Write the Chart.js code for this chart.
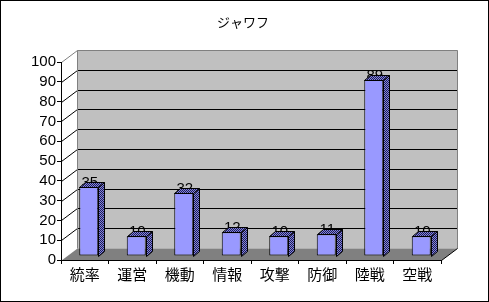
<!DOCTYPE html>
<html>
<head>
<meta charset="utf-8">
<script src="https://cdn.jsdelivr.net/npm/chart.js@4"></script>
<style>
  html, body { margin: 0; padding: 0; background: #fff; }
  canvas { display: block; }
</style>
</head>
<body>
<canvas id="chart" width="489" height="302"></canvas>
<script>
const title = "ジャワフ";
const categories = ["統率", "運営", "機動", "情報", "攻撃", "防御", "陸戦", "空戦"];
const values = [35, 10, 32, 12, 10, 11, 89, 10];
const yMin = 0;
const yMax = 100;
const yStep = 10;

// 3d depth of the walls and of the bars
const wallDx = 16, wallDy = 12;
const barShift = 4;
const barDx = 6, barDy = 5;

function makePattern(ctx) {
    const c = document.createElement("canvas");
    c.width = 2; c.height = 2;
    const p = c.getContext("2d");
    p.fillStyle = "#8080E0";
    p.fillRect(0, 0, 2, 2);
    p.fillStyle = "#202050";
    p.fillRect(0, 0, 1, 1);
    p.fillRect(1, 1, 1, 1);
    return ctx.createPattern(c, "repeat");
}

const walls = {
    id: "walls",
    beforeDraw(chart) {
        const ctx = chart.ctx;
        const a = chart.chartArea;
        const y = chart.scales.y;
        const L = a.left + 0.5, R = a.right + 0.5, T = a.top, B = a.bottom + 0.5;
        ctx.save();
        // title
        ctx.fillStyle = "#000";
        ctx.font = "13px 'Noto Sans CJK JP', sans-serif";
        ctx.textAlign = "center";
        ctx.textBaseline = "middle";
        ctx.fillText(title, 243, 22);
        // back wall
        ctx.fillStyle = "#C0C0C0";
        ctx.fillRect(L + wallDx, T - wallDy, R - L, B - T);
        // floor
        ctx.fillStyle = "#808080";
        ctx.beginPath();
        ctx.moveTo(L, B);
        ctx.lineTo(L + wallDx, B - wallDy);
        ctx.lineTo(R + wallDx, B - wallDy);
        ctx.lineTo(R, B);
        ctx.closePath();
        ctx.fill();
        // grid lines
        ctx.lineWidth = 1;
        ctx.strokeStyle = "#000";
        for (let v = yMin + yStep; v < yMax; v += yStep) {
            const py = Math.round(y.getPixelForValue(v)) + 0.5;
            ctx.beginPath();
            ctx.moveTo(L, py);
            ctx.lineTo(L + wallDx, py - wallDy);
            ctx.lineTo(R + wallDx, py - wallDy);
            ctx.stroke();
        }
        // wall outline
        ctx.strokeStyle = "#808080";
        const topY = Math.round(y.getPixelForValue(yMax)) + 0.5;
        ctx.beginPath();
        ctx.moveTo(L, topY);
        ctx.lineTo(L + wallDx, topY - wallDy);
        ctx.lineTo(R + wallDx, topY - wallDy);
        ctx.lineTo(R + wallDx, B - wallDy);
        ctx.moveTo(L + wallDx, topY - wallDy);
        ctx.lineTo(L + wallDx, B - wallDy);
        ctx.stroke();
        ctx.strokeStyle = "#000";
        ctx.beginPath();
        ctx.moveTo(R, B);
        ctx.lineTo(R + wallDx, B - wallDy);
        ctx.stroke();
        ctx.restore();
    },
    beforeDatasetsDraw(chart) {
        const ctx = chart.ctx;
        ctx.save();
        ctx.translate(barShift, -barShift);
        // value labels sit behind the bar tops
        ctx.fillStyle = "#000";
        ctx.font = "15px 'Liberation Sans', Arial, sans-serif";
        ctx.textAlign = "center";
        ctx.textBaseline = "alphabetic";
        chart.getDatasetMeta(0).data.forEach((bar, i) => {
            ctx.fillText(String(values[i]), bar.x + 1, bar.y);
        });
    },
    afterDatasetsDraw(chart) {
        const ctx = chart.ctx;
        const pat = makePattern(ctx);
        ctx.lineWidth = 1;
        ctx.strokeStyle = "#000";
        chart.getDatasetMeta(0).data.forEach(bar => {
            const l = Math.round(bar.x - bar.width / 2) + 0.5;
            const r = Math.round(bar.x + bar.width / 2) + 0.5;
            const t = Math.round(bar.y) + 0.5;
            const b = Math.round(bar.base) + 0.5;
            ctx.fillStyle = pat;
            // side
            ctx.beginPath();
            ctx.moveTo(r, t);
            ctx.lineTo(r + barDx, t - barDy);
            ctx.lineTo(r + barDx, b - barDy);
            ctx.lineTo(r, b);
            ctx.closePath();
            ctx.fill();
            ctx.stroke();
            // top
            ctx.beginPath();
            ctx.moveTo(l, t);
            ctx.lineTo(l + barDx, t - barDy);
            ctx.lineTo(r + barDx, t - barDy);
            ctx.lineTo(r, t);
            ctx.closePath();
            ctx.fill();
            ctx.stroke();
        });
        ctx.restore();
    },
    afterDraw(chart) {
        const ctx = chart.ctx;
        ctx.save();
        ctx.strokeStyle = "#000";
        ctx.lineWidth = 1;
        ctx.strokeRect(0.5, 0.5, chart.width - 1, chart.height - 1);
        ctx.restore();
    }
};

new Chart(document.getElementById("chart"), {
    type: "bar",
    data: {
        labels: categories,
        datasets: [{
            data: values,
            backgroundColor: "#9999FF",
            borderColor: "#000",
            borderWidth: 1,
            borderSkipped: false,
            barPercentage: 0.4,
            categoryPercentage: 1
        }]
    },
    options: {
        responsive: false,
        animation: false,
        devicePixelRatio: 1,
        layout: { padding: { left: 0, right: 48, top: 62, bottom: 0 } },
        plugins: {
            legend: { display: false },
            tooltip: { enabled: false },
            title: { display: false }
        },
        scales: {
            x: {
                afterFit: s => { s.height = 42; },
                grid: { drawOnChartArea: false, drawTicks: true, tickLength: 4, color: "#000", offset: true },
                border: { color: "#000" },
                ticks: {
                    color: "#000",
                    padding: 1,
                    autoSkip: false,
                    maxRotation: 0,
                    font: { family: "'Noto Sans CJK JP', sans-serif", size: 15 }
                }
            },
            y: {
                min: yMin,
                max: yMax,
                afterFit: s => { s.width = 61; },
                grid: { drawOnChartArea: false, drawTicks: true, tickLength: 4, color: "#000" },
                border: { color: "#000" },
                ticks: {
                    stepSize: yStep,
                    autoSkip: false,
                    color: "#000",
                    padding: 1,
                    font: { family: "'Liberation Sans', Arial, sans-serif", size: 15 }
                }
            }
        }
    },
    plugins: [walls]
});
</script>
</body>
</html>
